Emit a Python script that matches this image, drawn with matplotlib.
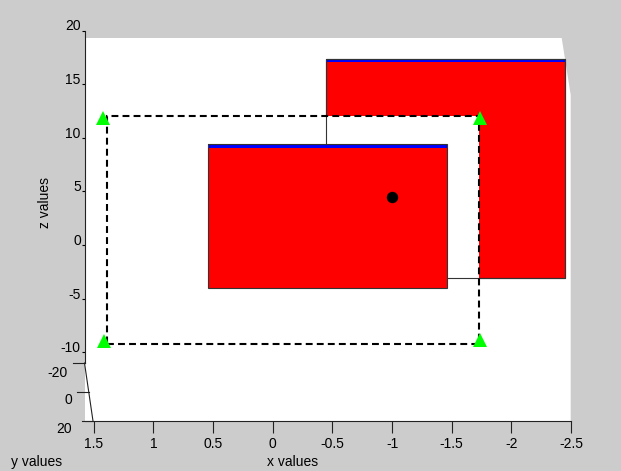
import matplotlib
matplotlib.use('Agg')
import matplotlib.pyplot as plt
from matplotlib.patches import Rectangle, Polygon
from matplotlib.lines import Line2D
from matplotlib.transforms import ScaledTranslation

plt.rcParams['font.family'] = ['Liberation Sans', 'DejaVu Sans']
plt.rcParams['axes.unicode_minus'] = False

# values (x values / z values as seen on the axes)
x_ticks = [1.5, 1, 0.5, 0, -0.5, -1, -1.5, -2, -2.5]
z_ticks = [20, 15, 10, 5, 0, -5, -10]
y_ticks = [-20, 0, 20]

back_x = [-0.443, -2.449]
back_z = [-3.09, 17.02]
back_top = 17.36
front_x = [0.541, -1.458]
front_z = [-3.99, 9.05]
front_top = 9.39

frame_x = [1.392, -1.728]
frame_z = [-9.21, 12.08]
tri_x = [1.419, -1.741, 1.417, -1.737]
tri_z = [11.85, 11.85, -8.93, -8.84]
dot_x = [-1.0]
dot_z = [4.5]

W, H = 621, 471


def fx(px):
    return px / W


def fy(py):
    return 1 - py / H


fig = plt.figure(figsize=(W / 100, H / 100), dpi=100)
fig.patch.set_facecolor('#cccccc')

# white back planes of the 3d box
box = Polygon([(fx(85), fy(38)), (fx(561.7), fy(38)), (fx(570.7), fy(95)),
               (fx(570.7), fy(421)), (fx(85), fy(421))],
              closed=True, facecolor='white', edgecolor='none',
              transform=fig.transFigure, zorder=-1)
fig.patches.append(box)

ax = fig.add_axes([fx(85), fy(421), (571 - 85) / W, (421 - 30.5) / H])
ax.patch.set_visible(False)
ax.set_xlim(1.574, -2.5)
ax.set_ylim(20 - (421 - 30.5) / 10.733, 20)

edge = '#333333'

def rect(xs, z0, z1, **kw):
    return Rectangle((xs[0], z0), xs[1] - xs[0], z1 - z0, **kw)

# back box
ax.add_patch(rect(back_x, back_z[0], back_z[1], facecolor='red', edgecolor='none', zorder=1))
ax.add_patch(rect(back_x, back_z[1], back_top, facecolor='#0000ff', edgecolor='none', zorder=1.5))
ax.add_patch(rect(back_x, back_z[0], back_top, fill=False, edgecolor=edge, lw=0.8, zorder=1.6))

# white plane with dashed outline
ax.add_patch(rect(frame_x, frame_z[0], frame_z[1], facecolor='white', edgecolor='none', zorder=3))
ax.add_patch(rect(back_x, back_z[0], back_top, fill=False, edgecolor=edge, lw=0.8, zorder=4))
ax.add_patch(rect(frame_x, frame_z[0], frame_z[1], fill=False, edgecolor='black', lw=1.5,
                  linestyle=(0, (3.3, 2)), zorder=5))

# front box
ax.add_patch(rect(front_x, front_z[0], front_z[1], facecolor='red', edgecolor='none', zorder=6))
ax.add_patch(rect(front_x, front_z[1], front_top, facecolor='#0000ff', edgecolor='none', zorder=6.5))
ax.add_patch(rect(front_x, front_z[0], front_top, fill=False, edgecolor=edge, lw=0.8, zorder=6.6))

ax.plot(dot_x, dot_z, 'o', color='black', markersize=7.2, zorder=7)
ax.plot(tri_x, tri_z, '^', color='#00ff00', markersize=9.5, markeredgewidth=0, zorder=8)

# axes
for s in ['top', 'right']:
    ax.spines[s].set_visible(False)
ax.spines['left'].set_bounds(-10.98, 20)
for s in ['left', 'bottom']:
    ax.spines[s].set_color('#222222')
    ax.spines[s].set_linewidth(0.8)

ax.set_xticks(x_ticks)
ax.set_xticklabels([f'{v:g}' for v in x_ticks])
ax.set_yticks(z_ticks)
ax.set_yticklabels([f'{v:g}' for v in z_ticks])
ax.tick_params(axis='x', direction='out', length=8.6, pad=3, labelsize=10, colors='black')
ax.tick_params(axis='x', color='#222222')
ax.tick_params(axis='y', direction='out', length=2, pad=1, labelsize=10, colors='black')
off = ScaledTranslation(0, 5.5 / 100, fig.dpi_scale_trans)
for lab in ax.get_yticklabels():
    lab.set_transform(lab.get_transform() + off)

# y axis (depth), drawn slanted at the lower left
fig.add_artist(Line2D([fx(84.5), fx(93)], [fy(363), fy(421)], color='#222222', lw=0.8))
y_rows = [363, 392, 421]
y_right = [68, 72, 72]
y_lab_rows = [373, 400, 429]
for v, r, xr, lr in zip(y_ticks, y_rows, y_right, y_lab_rows):
    x_line = 84.5 + (r - 363) / (421 - 363) * 8.5
    fig.add_artist(Line2D([fx(x_line - 11.5), fx(x_line)], [fy(r), fy(r)], color='#222222', lw=0.8))
    fig.text(fx(xr), fy(lr), f'{v:g}', ha='right', va='center', fontsize=10)

fig.text(fx(37), fy(462), 'y values', ha='center', va='center', fontsize=10)
fig.text(fx(293), fy(462), 'x values', ha='center', va='center', fontsize=10)
fig.text(fx(45), fy(203), 'z values', ha='center', va='center', fontsize=10, rotation=90)

plt.savefig('out.png', dpi=100, facecolor=fig.get_facecolor())
